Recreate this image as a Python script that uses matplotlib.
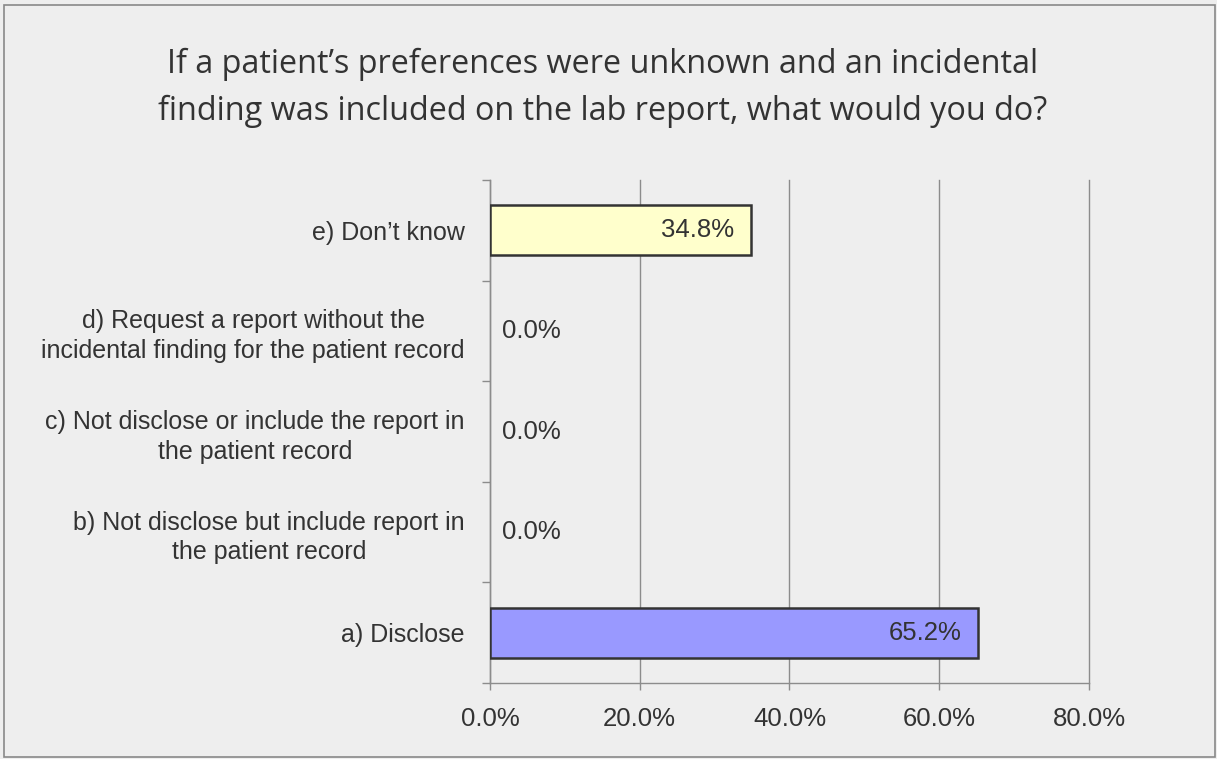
import matplotlib.pyplot as plt
from matplotlib.patches import Rectangle
import numpy as np

categories = ['a) Disclose',
              'b) Not disclose but include report in\nthe patient record',
              'c) Not disclose or include the report in\nthe patient record',
              'd) Request a report without the\nincidental finding for the patient record',
              'e) Don\u2019t know']
values = [65.2, 0.0, 0.0, 0.0, 34.8]
colors = ['#9999FF', '#9999FF', '#9999FF', '#9999FF', '#FFFFCC']
xticks = [0, 20, 40, 60, 80]

title = ('If a patient\u2019s preferences were unknown and an incidental\n'
         'finding was included on the lab report, what would you do?')

bg = '#EEEEEE'
txt = '#333333'
grid = '#8C8C8C'

plt.rcParams['font.family'] = ['Liberation Sans', 'DejaVu Sans']

fig = plt.figure(figsize=(12.17, 7.59), dpi=100)
fig.patch.set_facecolor(bg)
fig.patches.append(Rectangle((4 / 1217, 2 / 759), 1211 / 1217, 752 / 759,
                             transform=fig.transFigure, fill=False,
                             edgecolor='#888888', linewidth=1.2))

ax = fig.add_axes([0.4026, 0.1001, 0.4922, 0.6627])
ax.set_facecolor(bg)

y = np.arange(len(categories))
lws = [1.8 if v > 0 else 0 for v in values]
ax.barh(y, values, height=0.5, color=colors, edgecolor='#333333', linewidth=lws, zorder=3)

for yi, v in zip(y, values):
    if v > 0:
        ax.annotate(f'{v:.1f}%', (v, yi), xytext=(-12, 0), textcoords='offset points',
                    ha='right', va='center', fontsize=18.5, color=txt, zorder=4)
    else:
        ax.annotate(f'{v:.1f}%', (v, yi), xytext=(9, 0), textcoords='offset points',
                    ha='left', va='center', fontsize=18.5, color=txt, zorder=4)

ax.set_xlim(0, 80)
ax.set_ylim(-0.5, len(categories) - 0.5)
ax.set_xticks(xticks)
ax.set_xticklabels([f'{t:.1f}%' for t in xticks], fontsize=18.5, color=txt)
ax.set_yticks(y)
ax.set_yticklabels(categories, fontsize=18, color=txt, multialignment='center',
                   linespacing=1.3)
ax.set_yticks(np.arange(-0.5, len(categories)), minor=True)
ax.tick_params(axis='y', which='major', length=0, pad=18)
ax.tick_params(axis='y', which='minor', length=6, color=grid, width=1)
ax.tick_params(axis='x', length=5, color=grid, width=1, pad=12)

ax.xaxis.grid(True, color=grid, linewidth=1, zorder=0)
for gl in ax.get_xgridlines():
    gl.set_clip_on(False)
ax.set_axisbelow(True)
for s in ['top', 'right']:
    ax.spines[s].set_visible(False)
for s in ['left', 'bottom']:
    ax.spines[s].set_color(grid)
    ax.spines[s].set_linewidth(1)

fig.text(0.495, 1 - 88 / 759, title, ha='center', va='center', fontsize=23.3, color=txt,
         family=['Open Sans', 'DejaVu Sans'], linespacing=1.56)

fig.savefig('out.png', dpi=100, facecolor=bg)
